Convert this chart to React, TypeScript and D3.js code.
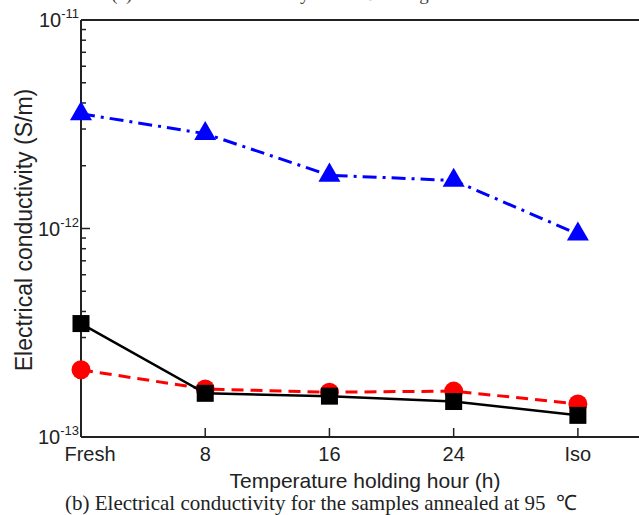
import { useEffect, useRef } from "react";
import * as d3 from "d3";

// x categories (holding hours)
const categories = ["Fresh", "8", "16", "24", "Iso"];

// electrical conductivity, S/m
const squareSeries = [3.5e-13, 1.62e-13, 1.57e-13, 1.48e-13, 1.27e-13];
const circleSeries = [2.1e-13, 1.7e-13, 1.64e-13, 1.66e-13, 1.44e-13];
const triangleSeries = [3.55e-12, 2.85e-12, 1.8e-12, 1.7e-12, 9.4e-13];

const yTickExps = [-13, -12, -11];

const App = () => {
  const ref = useRef<SVGSVGElement>(null);

  useEffect(() => {
    const width = 639;
    const left = 81;
    const top = 20;
    const bottom = 437;
    const right = 640;

    const svg = d3.select(ref.current);
    svg.selectAll("*").remove();

    const x = d3.scaleLinear().domain([0, 4.5]).range([left, right]);
    const y = d3.scaleLog().domain([1e-13, 1e-11]).range([bottom, top]);

    const font = "Arial, 'Liberation Sans', Helvetica, sans-serif";
    const serif = "'Times New Roman', 'Liberation Serif', serif";

    // title of panel (a), mostly cut off at the top edge
    svg
      .append("text")
      .attr("x", 270)
      .attr("y", 0)
      .attr("text-anchor", "middle")
      .style("font-family", serif)
      .style("font-size", "19px")
      .style("fill", "#444")
      .text("(a) Electrical conductivity at 85 ℃ curing");

    // frame
    const frame = svg.append("g").attr("stroke", "#222").attr("stroke-width", 2).attr("fill", "none");
    frame.append("line").attr("x1", left).attr("x2", width + 5).attr("y1", top).attr("y2", top);
    frame.append("line").attr("x1", left).attr("x2", left).attr("y1", top).attr("y2", bottom);
    frame.append("line").attr("x1", left).attr("x2", width + 5).attr("y1", bottom).attr("y2", bottom);

    // y ticks: majors and minors pointing inwards
    const minor: number[] = [];
    for (let e = -13; e < -11; e++) {
      for (let m = 2; m <= 9; m++) minor.push(m * Math.pow(10, e));
    }
    const ticks = svg.append("g").attr("stroke", "#222").attr("stroke-width", 1.5);
    ticks
      .selectAll("line.minor")
      .data(minor)
      .enter()
      .append("line")
      .attr("x1", left)
      .attr("x2", left + 5)
      .attr("y1", (d) => y(d))
      .attr("y2", (d) => y(d));
    ticks
      .selectAll("line.major")
      .data(yTickExps)
      .enter()
      .append("line")
      .attr("x1", left)
      .attr("x2", left + 9)
      .attr("y1", (d) => y(Math.pow(10, d)))
      .attr("y2", (d) => y(Math.pow(10, d)));

    // x ticks
    ticks
      .selectAll("line.xt")
      .data(categories.slice(1))
      .enter()
      .append("line")
      .attr("x1", (d, i) => x(i + 1))
      .attr("x2", (d, i) => x(i + 1))
      .attr("y1", bottom)
      .attr("y2", bottom - 9);

    // y tick labels 10^n
    const yl = svg
      .selectAll("text.ylab")
      .data(yTickExps)
      .enter()
      .append("text")
      .attr("class", "ylab")
      .attr("x", left - 2)
      .attr("y", (d) => y(Math.pow(10, d)) + 7)
      .attr("text-anchor", "end")
      .style("font-family", font)
      .style("font-size", "20px")
      .style("fill", "#222");
    yl.append("tspan").text("10");
    yl.append("tspan")
      .attr("dy", -9)
      .style("font-size", "13px")
      .text((d) => `${d}`);

    // x tick labels
    svg
      .selectAll("text.xlab")
      .data(categories)
      .enter()
      .append("text")
      .attr("x", (d, i) => x(i) + (i === 0 ? 9 : 0))
      .attr("y", 461)
      .attr("text-anchor", "middle")
      .style("font-family", font)
      .style("font-size", "20px")
      .style("fill", "#222")
      .text((d) => d);

    // axis titles
    svg
      .append("text")
      .attr("transform", `translate(32, 230) rotate(-90)`)
      .attr("text-anchor", "middle")
      .style("font-family", font)
      .style("font-size", "23px")
      .style("fill", "#222")
      .text("Electrical conductivity (S/m)");

    svg
      .append("text")
      .attr("x", 365)
      .attr("y", 488)
      .attr("text-anchor", "middle")
      .style("font-family", font)
      .style("font-size", "21px")
      .style("fill", "#222")
      .text("Temperature holding hour (h)");

    svg
      .append("text")
      .attr("x", 321)
      .attr("y", 510)
      .attr("text-anchor", "middle")
      .style("font-family", serif)
      .style("font-size", "21px")
      .style("fill", "#222")
      .text("(b) Electrical conductivity for the samples annealed at 95\u00a0 ℃");

    const line = d3
      .line<number>()
      .x((d, i) => x(i))
      .y((d) => y(d));

    // blue triangles
    svg
      .append("path")
      .attr("d", line(triangleSeries))
      .attr("fill", "none")
      .attr("stroke", "#0000ff")
      .attr("stroke-width", 3)
      .attr("stroke-dasharray", "14 6 3 6");
    const tri = d3.symbol().type(d3.symbolTriangle).size(210);
    svg
      .selectAll("path.tri")
      .data(triangleSeries)
      .enter()
      .append("path")
      .attr("d", tri)
      .attr("transform", (d, i) => `translate(${x(i)}, ${y(d)})`)
      .attr("fill", "#0000ff");

    // red circles
    svg
      .append("path")
      .attr("d", line(circleSeries))
      .attr("fill", "none")
      .attr("stroke", "#ff0000")
      .attr("stroke-width", 3)
      .attr("stroke-dasharray", "12 7");
    svg
      .selectAll("circle.dot")
      .data(circleSeries)
      .enter()
      .append("circle")
      .attr("cx", (d, i) => x(i))
      .attr("cy", (d) => y(d))
      .attr("r", 9.5)
      .attr("fill", "#ff0000");

    // black squares
    svg
      .append("path")
      .attr("d", line(squareSeries))
      .attr("fill", "none")
      .attr("stroke", "#000")
      .attr("stroke-width", 2.5);
    svg
      .selectAll("rect.sq")
      .data(squareSeries)
      .enter()
      .append("rect")
      .attr("x", (d, i) => x(i) - 8.5)
      .attr("y", (d) => y(d) - 8.5)
      .attr("width", 17)
      .attr("height", 17)
      .attr("fill", "#000");
  }, []);

  return (
    <svg
      ref={ref}
      width={639}
      height={515}
      style={{ position: "absolute", left: 0, top: 0, background: "#fff" }}
    ></svg>
  );
};

export default App;
